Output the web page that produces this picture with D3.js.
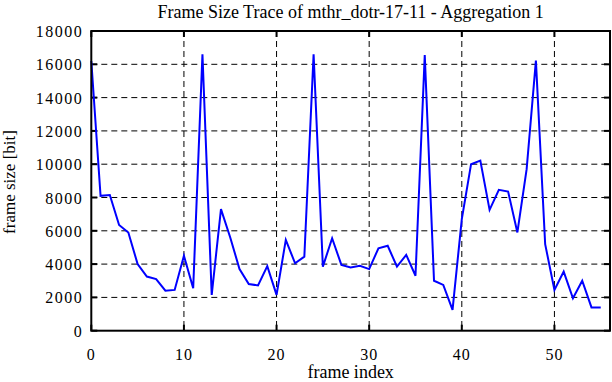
<!DOCTYPE html>
<html lang="en">
<head>
  <meta charset="UTF-8">
  <title>Frame Size Trace</title>
  <script src="https://d3js.org/d3.v7.min.js"></script>
  <style>
    body {
      margin: 0;
      background: white;
    }
    svg text {
      fill: black;
      font-family: "Liberation Serif", "DejaVu Serif", serif;
    }
  </style>
</head>
<body>
  <svg id="chart" width="612" height="382"></svg>

  <script>
    // frame index 0..55, frame size in bit
    const frameSizes = [
      16200, 8100, 8150, 6350, 5900, 4000, 3250, 3100, 2400, 2450,
      4500, 2550, 16600, 2150, 7300, 5600, 3700, 2800, 2720, 3880,
      2150, 5450, 4050, 4450, 16600, 3850, 5550, 3950, 3800, 3900,
      3700, 4950, 5100, 3850, 4550, 3300, 16550, 3000, 2750, 1250,
      6700, 10000, 10220, 7260, 8460, 8360, 5900, 9700, 16220, 5200,
      2450, 3550, 1950, 3000, 1400, 1400
    ];
    const xTicks = [0, 10, 20, 30, 40, 50];
    const yTicks = [0, 2000, 4000, 6000, 8000, 10000, 12000, 14000, 16000, 18000];

    const titleText = "Frame Size Trace of mthr_dotr-17-11 - Aggregation 1";
    const xLabel = "frame index";
    const yLabel = "frame size [bit]";

    const svg = d3.select("#chart");
    const margin = {top: 31, right: 2, bottom: 51.3, left: 91.3};
    const width = 612 - margin.left - margin.right,
          height = 382 - margin.top - margin.bottom;

    const x = d3.scaleLinear().domain([0, 56]).range([0, width]);
    const y = d3.scaleLinear().domain([0, 18000]).range([height, 0]);

    const g = svg.append("g").attr("transform", `translate(${margin.left},${margin.top})`);

    // dashed grid
    g.selectAll("line.vgrid")
      .data(xTicks.filter(d => d > 0))
      .enter().append("line")
      .attr("x1", d => x(d)).attr("x2", d => x(d))
      .attr("y1", 0).attr("y2", height)
      .attr("stroke", "black").attr("stroke-width", 1)
      .attr("stroke-dasharray", "6,4");
    g.selectAll("line.hgrid")
      .data(yTicks.filter(d => d > 0 && d < 18000))
      .enter().append("line")
      .attr("x1", 0).attr("x2", width)
      .attr("y1", d => y(d)).attr("y2", d => y(d))
      .attr("stroke", "black").attr("stroke-width", 1)
      .attr("stroke-dasharray", "6,4");

    // inward ticks on all four sides
    const tickLen = 6;
    xTicks.forEach(t => {
      g.append("line").attr("x1", x(t)).attr("x2", x(t)).attr("y1", height).attr("y2", height - tickLen)
        .attr("stroke", "black").attr("stroke-width", 2);
      g.append("line").attr("x1", x(t)).attr("x2", x(t)).attr("y1", 0).attr("y2", tickLen)
        .attr("stroke", "black").attr("stroke-width", 2);
    });
    yTicks.forEach(t => {
      g.append("line").attr("x1", 0).attr("x2", tickLen).attr("y1", y(t)).attr("y2", y(t))
        .attr("stroke", "black").attr("stroke-width", 2);
      g.append("line").attr("x1", width).attr("x2", width - tickLen).attr("y1", y(t)).attr("y2", y(t))
        .attr("stroke", "black").attr("stroke-width", 2);
    });

    // data line
    const line = d3.line().x((d, i) => x(i)).y(d => y(d));
    g.append("path")
      .datum(frameSizes)
      .attr("d", line)
      .attr("fill", "none")
      .attr("stroke", "#0000ff")
      .attr("stroke-width", 2)
      .attr("stroke-linejoin", "miter");

    // frame
    g.append("rect")
      .attr("x", 0).attr("y", 0)
      .attr("width", width).attr("height", height)
      .attr("fill", "none").attr("stroke", "black").attr("stroke-width", 2);

    // tick labels
    g.selectAll("text.xt")
      .data(xTicks)
      .enter().append("text")
      .attr("x", d => x(d))
      .attr("y", height + 29)
      .attr("text-anchor", "middle")
      .attr("font-size", 16)
      .attr("letter-spacing", 1)
      .text(d => d);
    g.selectAll("text.yt")
      .data(yTicks)
      .enter().append("text")
      .attr("x", -8)
      .attr("y", d => y(d) + 6)
      .attr("text-anchor", "end")
      .attr("font-size", 16)
      .attr("letter-spacing", 1.5)
      .text(d => d);

    // titles
    svg.append("text")
      .attr("x", margin.left + width / 2)
      .attr("y", 17.5)
      .attr("text-anchor", "middle")
      .attr("font-size", 18)
      .text(titleText);
    svg.append("text")
      .attr("x", margin.left + width / 2)
      .attr("y", 378)
      .attr("text-anchor", "middle")
      .attr("font-size", 18)
      .text(xLabel);
    svg.append("text")
      .attr("transform", "translate(15,182) rotate(-90)")
      .attr("text-anchor", "middle")
      .attr("font-size", 17)
      .text(yLabel);
  </script>
</body>
</html>
